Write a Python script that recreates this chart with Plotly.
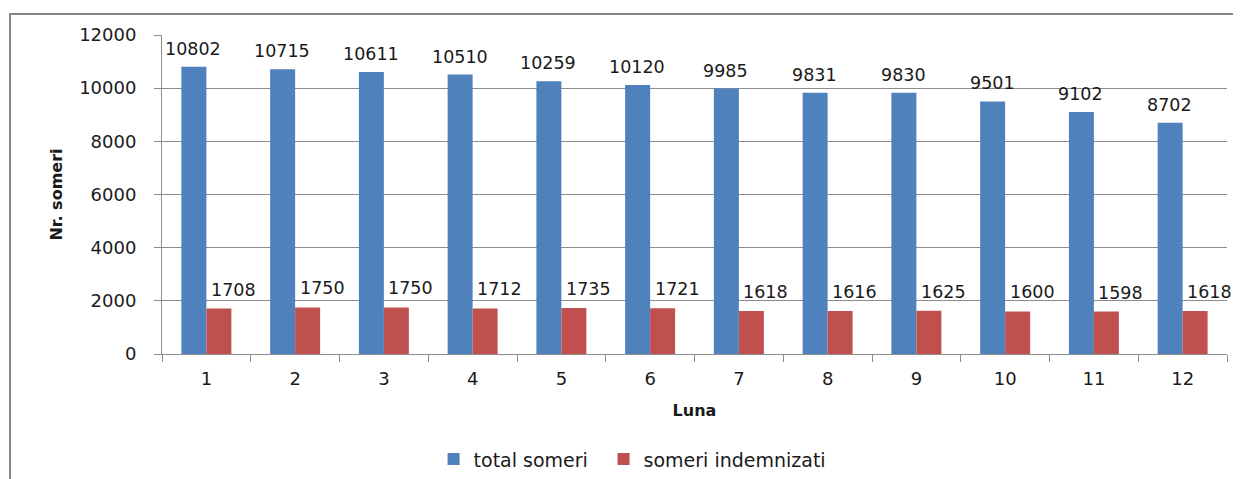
import plotly.graph_objects as go

months = ["1", "2", "3", "4", "5", "6", "7", "8", "9", "10", "11", "12"]
total_someri = [10802, 10715, 10611, 10510, 10259, 10120, 9985, 9831, 9830, 9501, 9102, 8702]
someri_indemnizati = [1708, 1750, 1750, 1712, 1735, 1721, 1618, 1616, 1625, 1600, 1598, 1618]

BLUE = "#4F81BD"
RED = "#C0504D"
GRID = "#8C8C8C"
FONT = "DejaVu Sans"
TXT = "#1a1a1a"

fig = go.Figure()
fig.add_trace(go.Bar(x=months, y=total_someri, name="total someri", legend="legend",
                     marker=dict(color=BLUE, line=dict(width=0))))
fig.add_trace(go.Bar(x=months, y=someri_indemnizati, name="someri indemnizati", legend="legend2",
                     marker=dict(color=RED, line=dict(width=0))))

annotations = []
for i, v in enumerate(total_someri):
    annotations.append(dict(x=i, y=v, text=str(v), showarrow=False, xref="x", yref="y",
                            xshift=-13, yshift=18, yanchor="middle",
                            font=dict(family=FONT, size=17.5, color=TXT)))
for i, v in enumerate(someri_indemnizati):
    annotations.append(dict(x=i, y=v, text=str(v), showarrow=False, xref="x", yref="y",
                            xshift=27, yshift=19, yanchor="middle",
                            font=dict(family=FONT, size=17.5, color=TXT)))

leg_common = dict(orientation="h", xanchor="left", y=-0.33, yanchor="middle",
                  font=dict(family=FONT, size=19, color=TXT), bgcolor="rgba(0,0,0,0)")

# The page body has an 8px margin, so the figure is offset by (8, 8)
fig.update_layout(
    width=1233, height=471,
    margin=dict(l=154, r=14, t=27, b=125, autoexpand=False),
    paper_bgcolor="white", plot_bgcolor="white",
    barmode="group", bargap=0.437, bargroupgap=0,
    font=dict(family=FONT, size=16, color=TXT),
    annotations=annotations,
    showlegend=True,
    legend=dict(x=0.255, **leg_common),
    legend2=dict(x=0.4146, **leg_common),
    xaxis=dict(type="category", range=[-0.5, 11.5], automargin=False,
               showline=True, linecolor=GRID, linewidth=1,
               ticks="outside", tickson="boundaries", ticklen=7, tickcolor=GRID,
               ticklabelstandoff=8,
               showgrid=False, tickfont=dict(family=FONT, size=18),
               title=dict(text="<b>Luna</b>", font=dict(family=FONT, size=16), standoff=17)),
    yaxis=dict(range=[0, 12000], dtick=2000, tickformat="d", automargin=False,
               showline=True, linecolor=GRID, linewidth=1,
               ticks="outside", ticklen=7, tickcolor=GRID, ticklabelstandoff=14,
               showgrid=True, gridcolor=GRID, gridwidth=1, zeroline=False,
               tickfont=dict(family=FONT, size=18),
               title=dict(text="<b>Nr. someri</b>", font=dict(family=FONT, size=16), standoff=12)),
    shapes=[dict(type="rect", xref="paper", yref="paper",
                 x0=-0.1427, x1=1.05, y0=-0.6, y1=1.0658,
                 line=dict(color="#868686", width=2), fillcolor="rgba(0,0,0,0)", layer="below")],
)

fig.write_html("out.html")
